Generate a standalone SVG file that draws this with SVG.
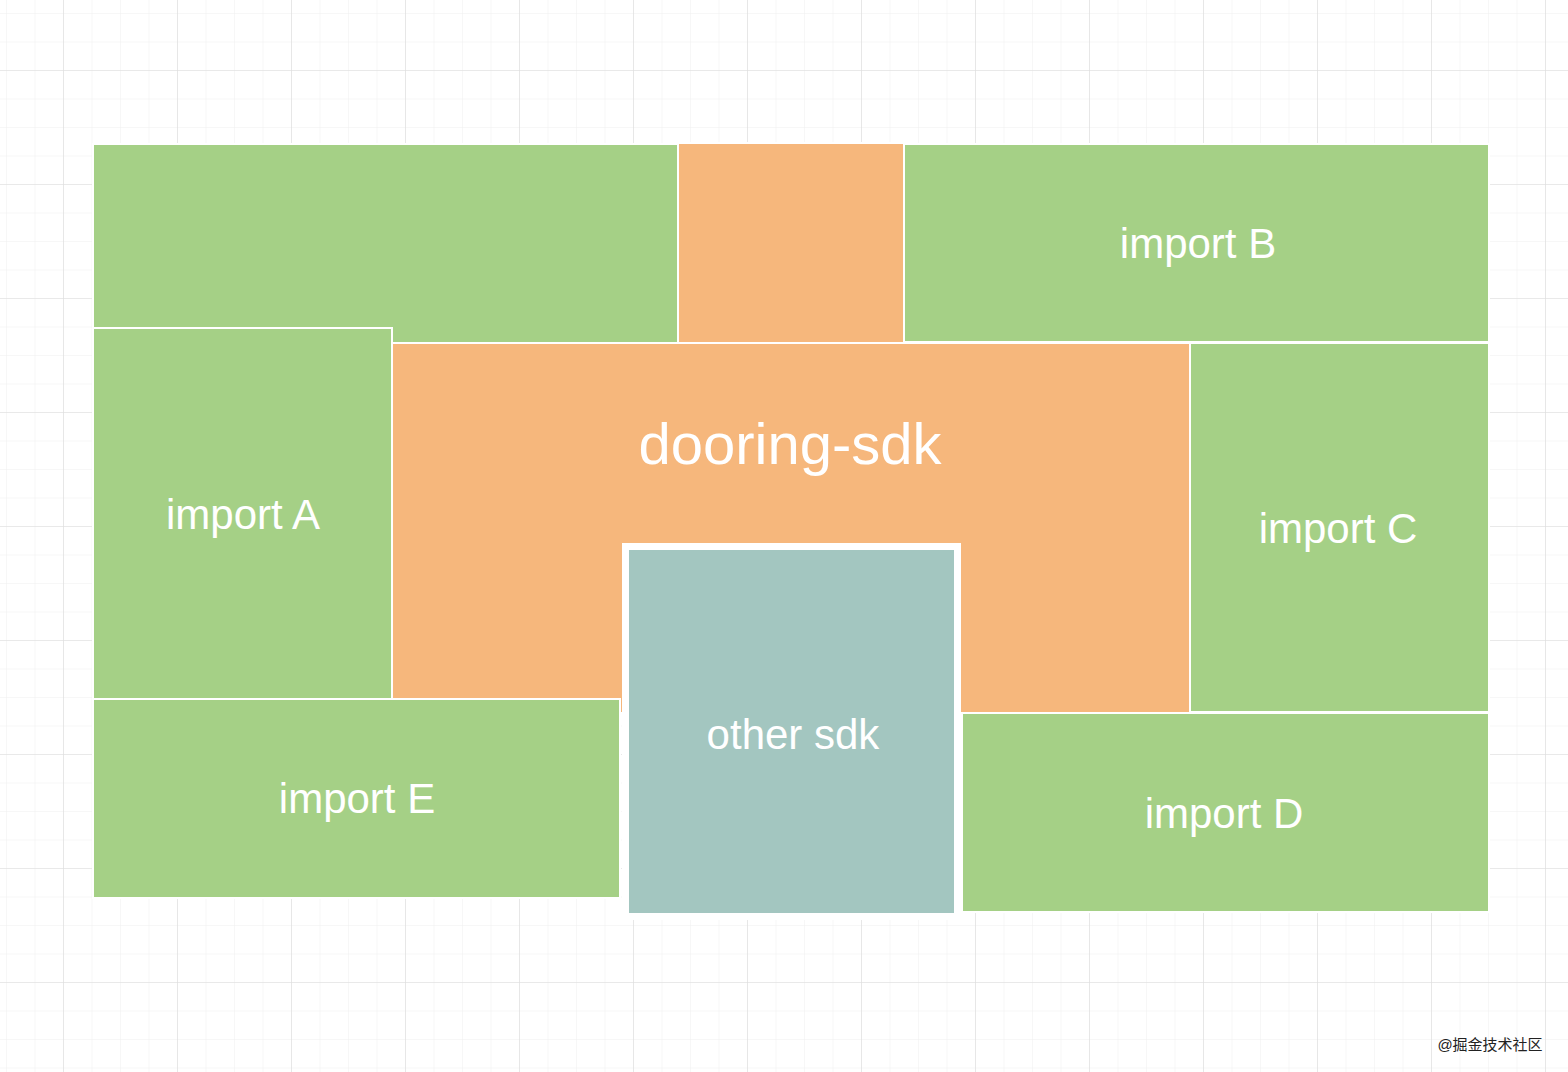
<svg xmlns="http://www.w3.org/2000/svg" width="1568" height="1072" viewBox="0 0 1568 1072">
<defs>
<pattern id="minor" x="6" y="13" width="28.5" height="28.5" patternUnits="userSpaceOnUse"><path d="M0 0V28.5M0 0H28.5" fill="none" stroke="#f0f0f0" stroke-width="1"/></pattern>
<pattern id="major" x="63" y="70" width="114" height="114" patternUnits="userSpaceOnUse"><path d="M0 0V114M0 0H114" fill="none" stroke="#dcdcdc" stroke-width="1.2"/></pattern>
</defs>
<style>
.g{fill:#a5d086;stroke:#fff;stroke-width:2}
.o{fill:#f6b77c;stroke:#fff;stroke-width:2}
.t{fill:#a3c6c0;stroke:#fff;stroke-width:7}
text{font-family:"Liberation Sans",Arial,sans-serif;fill:#fff;text-anchor:middle}
.l{font-size:42px}
</style>
<rect width="1568" height="1072" fill="#fff"/>
<rect width="1568" height="1072" fill="url(#minor)"/>
<rect width="1568" height="1072" fill="url(#major)"/>
<g id="top-left"><rect class="g" x="93" y="144" width="585" height="199"/></g>
<g id="orange-top"><rect class="o" x="678" y="143" width="226" height="200"/></g>
<g id="importB"><rect class="g" x="904" y="144" width="585" height="198"/><text class="l" x="1198" y="258">import B</text></g>
<g id="dooring-sdk"><rect class="o" x="392" y="343" width="798" height="370"/><text x="790" y="464" font-size="58">dooring-sdk</text></g>
<g id="importA"><rect class="g" x="93" y="328" width="299" height="371"/><text class="l" x="243" y="529">import A</text></g>
<g id="importC"><rect class="g" x="1190" y="343" width="299" height="369"/><text class="l" x="1338" y="543">import C</text></g>
<g id="importE"><rect class="g" x="93" y="699" width="527" height="199"/><text class="l" x="357" y="813">import E</text></g>
<g id="importD"><rect class="g" x="962" y="713" width="527" height="199"/><text class="l" x="1224" y="828">import D</text></g>
<g id="other-sdk"><rect class="t" x="625.5" y="546.5" width="332" height="370"/><text class="l" x="793" y="749">other sdk</text></g>
<g id="connectors"/>
<text x="1490" y="1050" font-size="15" style="fill:#222;font-family:'Liberation Sans','Noto Sans CJK SC',sans-serif">@掘金技术社区</text>
</svg>
